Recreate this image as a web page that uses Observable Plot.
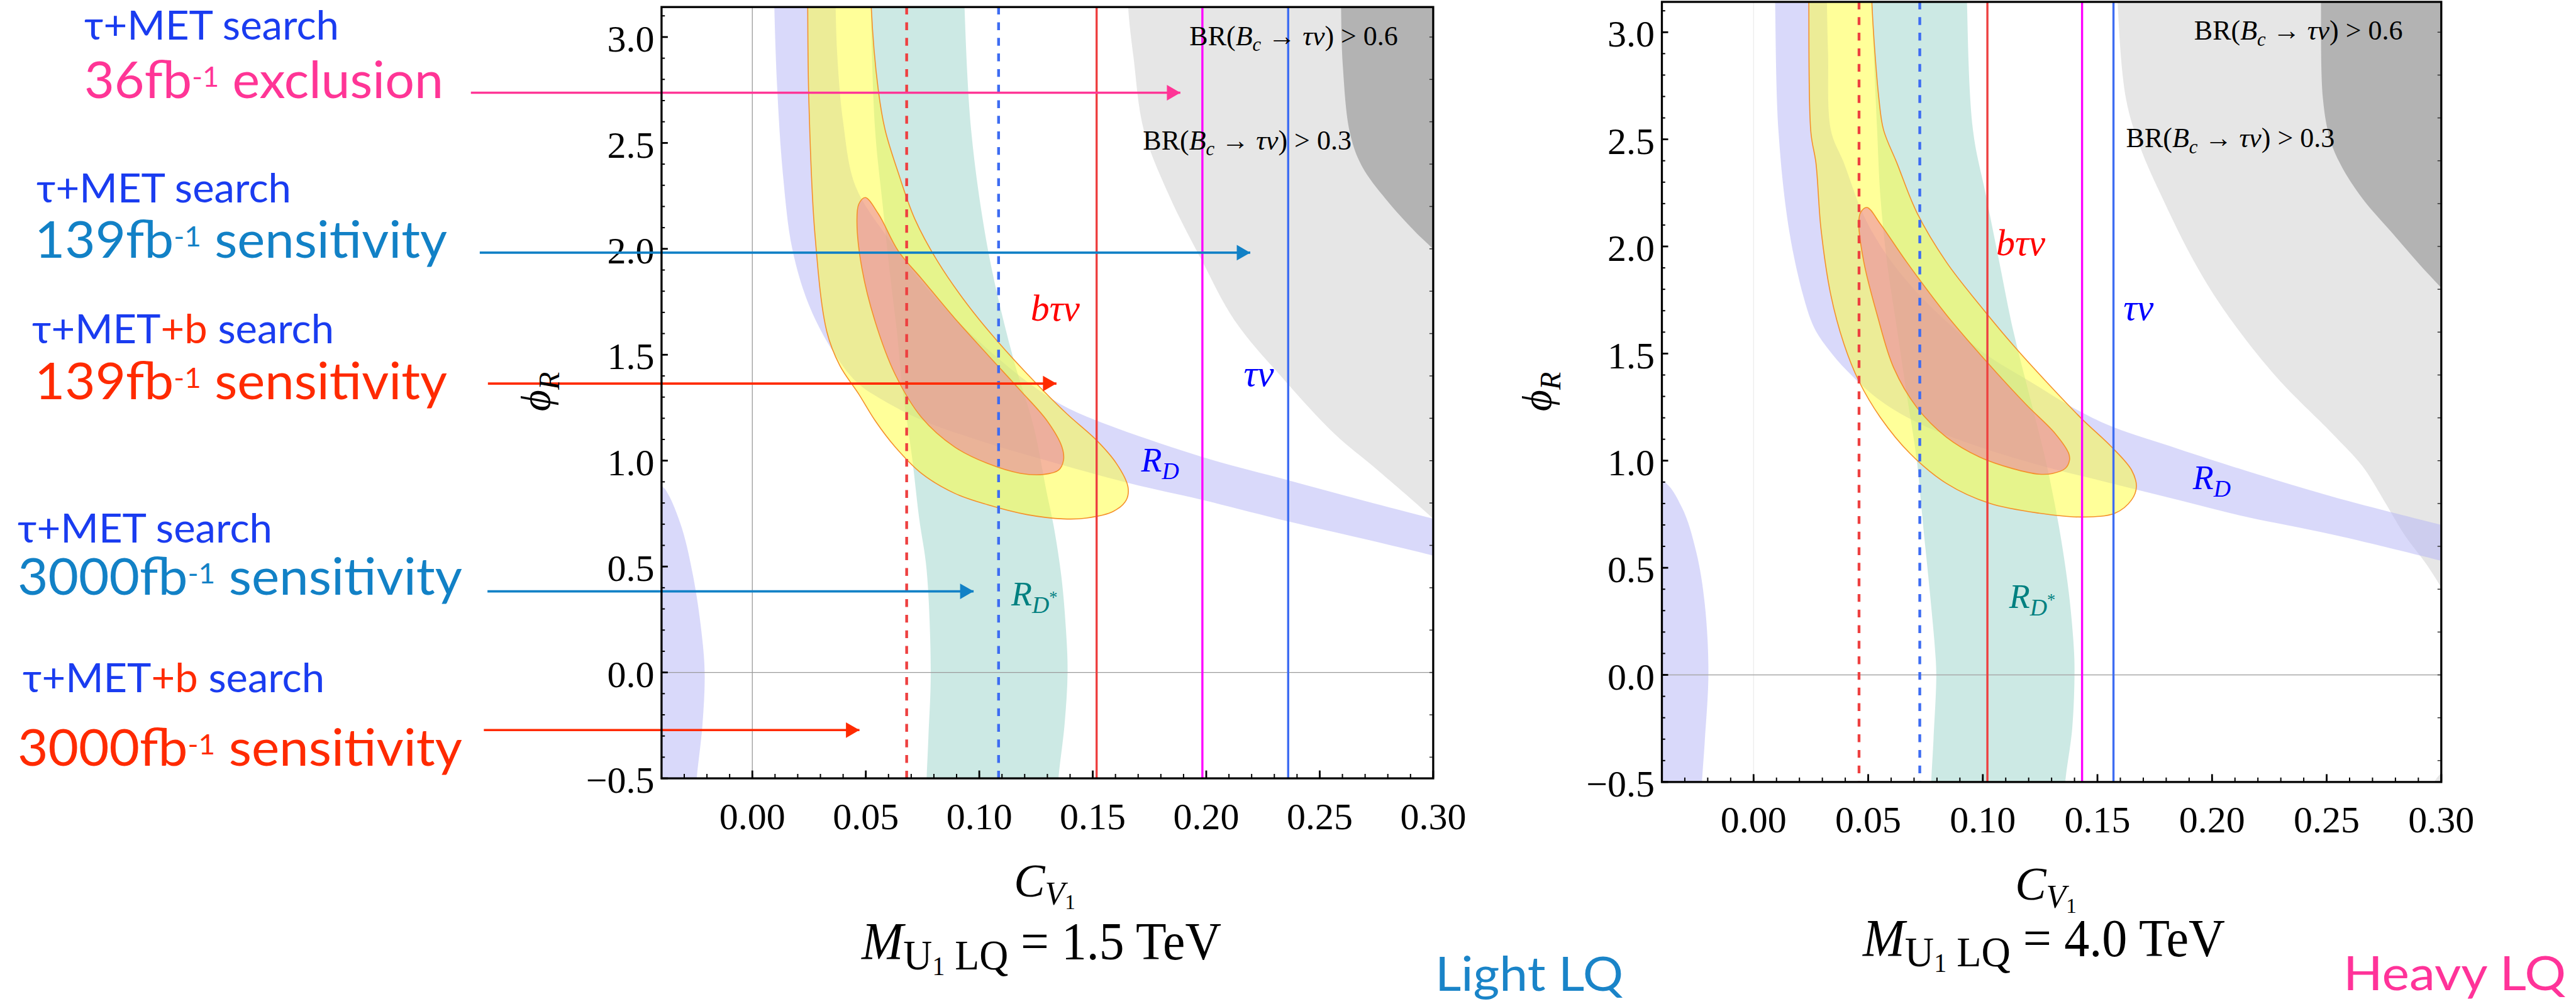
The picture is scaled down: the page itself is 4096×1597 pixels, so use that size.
<!DOCTYPE html>
<html><head><meta charset="utf-8">
<script src="https://cdn.jsdelivr.net/npm/d3@7"></script>
<script src="https://cdn.jsdelivr.net/npm/@observablehq/plot@0.6"></script>
<style>
html,body{margin:0;padding:0;background:#fff;}
#root{position:relative;width:4096px;height:1597px;overflow:hidden;background:#fff;}
</style></head><body><div id="root"></div>
<script>
// ---------------- DATA ----------------
const xTickValues = [0, 0.05, 0.1, 0.15, 0.2, 0.25, 0.3];
const xTickLabels = ["0.00", "0.05", "0.10", "0.15", "0.20", "0.25", "0.30"];
const yTickValues = [-0.5, 0, 0.5, 1, 1.5, 2, 2.5, 3];
const yTickLabels = ["\u22120.5", "0.0", "0.5", "1.0", "1.5", "2.0", "2.5", "3.0"];

// Panel A : M = 1.5 TeV
const rdBandA = [
 [0.0095,3.35],[0.0097,3.1416],[0.011,2.75],[0.0135,2.35],[0.0176,2.0],[0.0249,1.736],[0.0354,1.518],[0.046,1.37],[0.0568,1.29],[0.075,1.19],[0.10,1.095],[0.1253,1.014],[0.1663,0.893],[0.1981,0.815],[0.2357,0.714],[0.2737,0.62],[0.30,0.552],[0.33,0.47],
 [0.33,0.645],[0.30,0.726],[0.2737,0.799],[0.2357,0.909],[0.1981,1.018],[0.1517,1.189],[0.1357,1.267],[0.1226,1.361],[0.108,1.486],[0.0891,1.673],[0.0745,1.844],[0.060,2.047],[0.0454,2.297],[0.040,2.6],[0.0375,2.9],[0.0367,3.1416],[0.0365,3.35]
];
const rdSliverA = [[-0.07,0.95],[-0.04,0.88],[-0.037,0.84],[-0.031,0.68],[-0.026,0.45],[-0.0225,0.2],[-0.021,0.0],[-0.022,-0.25],[-0.0245,-0.5],[-0.025,-0.6],[-0.07,-0.6]];
const rdStarA = [
 [0.0520,3.35],[0.0522,3.1416],[0.0541,2.562],[0.0575,2.2],[0.061,1.85],[0.0638,1.6],[0.066,1.356],[0.0705,1.005],[0.0735,0.728],[0.0768,0.484],[0.0786,0.0],[0.0776,-0.3],[0.0768,-0.5],[0.0765,-0.6],
 [0.1345,-0.6],[0.1349,-0.5],[0.1376,-0.242],[0.1389,0.0],[0.1382,0.2],[0.1362,0.45],[0.1328,0.69],[0.1297,0.85],[0.124,1.158],[0.1153,1.47],[0.108,1.782],[0.1022,2.094],[0.0964,2.562],[0.0935,3.1416],[0.0932,3.35]
];
const yellowA = [
 [0.0244,3.35],[0.0244,3.1416],[0.0249,2.70],[0.0275,2.08],[0.0328,1.61],[0.0385,1.45],[0.0469,1.314],[0.0541,1.189],[0.0629,1.065],[0.0745,0.940],[0.0891,0.846],[0.1036,0.792],[0.1211,0.745],[0.1371,0.725],[0.1473,0.729],[0.1590,0.760],[0.1648,0.815],[0.1655,0.877],[0.1604,0.987],[0.1517,1.096],[0.1386,1.221],[0.1240,1.377],[0.1080,1.564],[0.0949,1.735],[0.0818,1.938],[0.0716,2.141],[0.0643,2.359],[0.0585,2.562],[0.0555,2.75],[0.0524,3.1416],[0.0522,3.35]
];
const redA = [
 [0.0498,2.242],[0.0556,2.164],[0.0643,1.990],[0.0745,1.860],[0.0891,1.673],[0.1036,1.501],[0.1182,1.330],[0.1298,1.189],[0.1364,1.065],[0.1371,1.002],[0.1349,0.955],[0.1284,0.935],[0.1182,0.940],[0.1036,0.987],[0.0891,1.065],[0.0745,1.205],[0.0629,1.408],[0.0541,1.657],[0.0483,1.907],[0.0461,2.125],[0.0469,2.211]
];
const brLowA = [[0.1654,3.35],[0.1656,3.1416],[0.168,2.9],[0.1725,2.56],[0.1837,2.25],[0.1983,1.94],[0.2128,1.657],[0.2347,1.377],[0.2565,1.127],[0.275,0.96],[0.30,0.726],[0.31,0.62],[0.33,0.40],[0.36,0.40],[0.36,3.35]];
const brHighA = [[0.2594,3.35],[0.2594,3.1416],[0.2602,2.86],[0.2633,2.548],[0.2685,2.392],[0.279,2.236],[0.2921,2.080],[0.30,1.998],[0.31,1.88],[0.36,1.88],[0.36,3.35]];
const cutSeries = ["b3000", "t3000", "b139", "t36", "t139"];
const cutValuesA = [0.068, 0.1085, 0.1517, 0.1983, 0.2361];
const labelsA = [
 {kind:"br", x:0.1926, y:2.962, text:"BR(<i>B</i><sub><i>c</i></sub> \u2192 <i>\u03c4\u03bd</i>) > 0.6"},
 {kind:"br", x:0.1721, y:2.469, text:"BR(<i>B</i><sub><i>c</i></sub> \u2192 <i>\u03c4\u03bd</i>) > 0.3"},
 {kind:"btn", x:0.1226, y:1.66, text:"b\u03c4\u03bd"},
 {kind:"tn", x:0.2165, y:1.353, text:"\u03c4\u03bd"},
 {kind:"rd", x:0.1713, y:0.948, text:"<i>R</i><sub><i>D</i></sub>"},
 {kind:"rds", x:0.1141, y:0.316, text:"<i>R</i><sub><i>D</i><sup>*</sup></sub>"}
];
const arrowSeries = ["t36", "t139", "b139", "t3000", "b3000"];
const arrowY = [2.737, 1.982, 1.364, 0.383, -0.272];
const arrowFrom = [-0.124, -0.1201, -0.1165, -0.1167, -0.1183];
const arrowTo = [0.1886, 0.2194, 0.134, 0.0975, 0.0472];

// Panel B : M = 4.0 TeV
const rdBandB = [
 [0.0092,3.35],[0.0094,3.1416],[0.0109,2.532],[0.0156,2.069],[0.0219,1.761],[0.0265,1.619],[0.0322,1.526],[0.0409,1.418],[0.0553,1.280],[0.0726,1.172],[0.0986,1.064],[0.1274,0.971],[0.1562,0.894],[0.185,0.817],[0.2139,0.740],[0.2525,0.655],[0.30,0.533],[0.33,0.45],
 [0.33,0.62],[0.30,0.70],[0.2525,0.832],[0.2139,0.956],[0.185,1.056],[0.157,1.156],[0.1418,1.233],[0.1202,1.372],[0.1014,1.496],[0.0841,1.650],[0.0697,1.804],[0.0582,1.958],[0.0481,2.143],[0.0394,2.390],[0.0337,2.544],[0.0325,2.9],[0.032,3.1416],[0.032,3.35]
];
const rdSliverB = [[-0.07,0.98],[-0.04,0.91],[-0.0313,0.782],[-0.025,0.573],[-0.0213,0.332],[-0.0197,0.011],[-0.0213,-0.31],[-0.0225,-0.5],[-0.0228,-0.6],[-0.07,-0.6]];
const rdStarB = [
 [0.0514,3.35],[0.0516,3.1416],[0.0539,2.544],[0.0553,2.236],[0.0582,1.927],[0.0625,1.619],[0.0668,1.31],[0.0712,1.002],[0.074,0.693],[0.0769,0.385],[0.0791,0.126],[0.0797,0.0],[0.0785,-0.3],[0.0775,-0.5],[0.0772,-0.6],
 [0.1358,-0.6],[0.136,-0.5],[0.139,-0.25],[0.14,0.0],[0.1397,0.126],[0.1375,0.385],[0.1332,0.693],[0.1274,1.002],[0.1202,1.31],[0.113,1.619],[0.1072,1.927],[0.1014,2.236],[0.0957,2.544],[0.0931,3.1416],[0.093,3.35]
];
const yellowB = [
 [0.0241,3.35],[0.0241,3.1416],[0.025,2.532],[0.0272,2.39],[0.0294,2.082],[0.0337,1.773],[0.0395,1.542],[0.0459,1.372],[0.0553,1.202],[0.0683,1.033],[0.0841,0.894],[0.1029,0.801],[0.1245,0.755],[0.1433,0.737],[0.1577,0.755],[0.1649,0.817],[0.1670,0.879],[0.1649,0.956],[0.1562,1.064],[0.1432,1.195],[0.1274,1.372],[0.1130,1.542],[0.0986,1.727],[0.0841,1.927],[0.0712,2.159],[0.0625,2.39],[0.0567,2.544],[0.0547,2.687],[0.0516,3.1416],[0.0514,3.35]
];
const redB = [
 [0.0495,2.182],[0.0553,2.105],[0.0668,1.927],[0.0841,1.681],[0.1014,1.465],[0.1187,1.264],[0.1317,1.125],[0.1375,1.033],[0.1378,1.002],[0.1360,0.964],[0.1303,0.940],[0.1245,0.937],[0.1130,0.963],[0.0986,1.017],[0.0841,1.110],[0.0712,1.249],[0.0611,1.434],[0.0539,1.681],[0.0481,1.927],[0.0459,2.112],[0.0467,2.159]
];
const brLowB = [[0.1586,3.35],[0.1588,3.1416],[0.1625,2.687],[0.1685,2.467],[0.1779,2.236],[0.1923,1.927],[0.2067,1.681],[0.2283,1.388],[0.2526,1.125],[0.2656,0.974],[0.275,0.814],[0.284,0.653],[0.295,0.493],[0.302,0.35],[0.304,0.0],[0.3005,-0.44],[0.297,-0.5],[0.295,-0.6],[0.36,-0.6],[0.36,3.35]];
const brHighB = [[0.2475,3.35],[0.2475,3.1416],[0.2484,2.687],[0.2515,2.5],[0.2563,2.378],[0.2656,2.224],[0.2781,2.069],[0.2906,1.915],[0.30,1.807],[0.31,1.69],[0.36,1.69],[0.36,3.35]];
const cutValuesB = [0.046, 0.0725, 0.102, 0.1433, 0.157];
const labelsB = [
 {kind:"br", x:0.1922, y:2.9645, text:"BR(<i>B</i><sub><i>c</i></sub> \u2192 <i>\u03c4\u03bd</i>) > 0.6"},
 {kind:"br", x:0.1625, y:2.463, text:"BR(<i>B</i><sub><i>c</i></sub> \u2192 <i>\u03c4\u03bd</i>) > 0.3"},
 {kind:"btn", x:0.1058, y:1.958, text:"b\u03c4\u03bd"},
 {kind:"tn", x:0.1613, y:1.657, text:"\u03c4\u03bd"},
 {kind:"rd", x:0.1916, y:0.866, text:"<i>R</i><sub><i>D</i></sub>"},
 {kind:"rds", x:0.1115, y:0.313, text:"<i>R</i><sub><i>D</i><sup>*</sup></sub>"}
];

// ---------------- STYLE ----------------
const SERIF = "'Liberation Serif', 'Times New Roman', 'DejaVu Serif', serif";
const SANS = "Lato, 'Open Sans', 'DejaVu Sans', sans-serif";
const cutColor = {b3000:"#ee4040", t3000:"#3d6cf2", b139:"#ee4040", t36:"#ff00ff", t139:"#3d6cf2"};
const arrowColor = {t36:"#ff3596", t139:"#1281c6", b139:"#ff2a00", t3000:"#1281c6", b3000:"#ff2a00"};
const yMinor = d3.range(-5, 32).map(i => i / 10);
const yRight = d3.range(-2, 16).map(i => i / 5);
const xMinor = d3.range(-3, 31).map(i => i / 100);

function richify(svg) {
  d3.select(svg).selectAll("text").each(function () {
    const s = this.textContent;
    if (!s.includes("<")) return;
    const g = this.closest("[font-size]");
    const fs = g ? parseFloat(g.getAttribute("font-size")) : 40;
    this.textContent = "";
    const parts = s.split(/(<\/?(?:i|sub|sup)>)/).filter(p => p !== "");
    let italic = 0, cur = 0; const stack = [];
    for (const p of parts) {
      if (p === "<i>") { italic++; continue; }
      if (p === "</i>") { italic--; continue; }
      if (p === "<sub>" || p === "<sup>") { stack.push(p); continue; }
      if (p === "</sub>" || p === "</sup>") { stack.pop(); continue; }
      let scale = 1, shift = 0;
      for (const t of stack) { shift += (t === "<sub>" ? 0.22 : -0.42) * fs * scale; scale *= 0.7; }
      const ts = document.createElementNS("http://www.w3.org/2000/svg", "tspan");
      ts.textContent = p;
      if (italic) ts.setAttribute("font-style", "italic");
      ts.setAttribute("font-size", fs * scale);
      if (shift - cur !== 0) ts.setAttribute("dy", shift - cur);
      cur = shift;
      this.appendChild(ts);
    }
  });
}

function panel(cfg, P) {
  const fw = cfg.width - cfg.marginLeft - cfg.marginRight;
  const fh = cfg.height - cfg.marginTop - cfg.marginBottom;
  const X = p => p[0], Y = p => p[1];
  const poly = (pts, o) => Plot.line(pts, {x: X, y: Y, curve: "catmull-rom-closed", clip: true, ...o});
  const lav = {fill: "#b4b4f6", fillOpacity: 0.5, stroke: "none"};
  const xt = xTickValues.map((v, i) => ({v, s: xTickLabels[i]}));
  const yt = yTickValues.map((v, i) => ({v, s: yTickLabels[i]}));
  const cuts = P.cuts.map((x, i) => ({x, series: cutSeries[i]}));
  const dashed = cuts.filter(c => c.series.endsWith("3000"));
  const solid = cuts.filter(c => !c.series.endsWith("3000"));
  const lbl = k => P.labels.filter(l => l.kind === k);
  const tOpt = {x: "x", y: "y", text: "text", textAnchor: "start", lineAnchor: "bottom", fontFamily: SERIF};
  const marks = [
    poly(P.brLow, {fill: "#e6e6e6", stroke: "none"}),
    poly(P.brHigh, {fill: "#b3b3b3", stroke: "none"}),
    poly(P.rdBand, lav), poly(P.rdSliver, lav),
    poly(P.rdStar, {fill: "#99d4ca", fillOpacity: 0.5, stroke: "none"}),
    poly(P.yellow, {fill: "#ffff33", fillOpacity: 0.5, stroke: "#f5902a", strokeWidth: 1.6}),
    poly(P.red, {fill: "#ee72a4", fillOpacity: 0.5, stroke: "#f5902a", strokeWidth: 1.6}),
    Plot.ruleX([0], {stroke: cfg.zeroX, strokeWidth: 1.3}),
    Plot.ruleY([0], {stroke: cfg.zeroY, strokeWidth: 1.3}),
    Plot.ruleX(dashed, {x: "x", stroke: c => cutColor[c.series], strokeWidth: 4.4, strokeDasharray: "12.4,12.4"}),
    Plot.ruleX(solid, {x: "x", stroke: c => cutColor[c.series], strokeWidth: 3.4}),
    Plot.text(lbl("br"), {...tOpt, fontSize: 44, fill: "black"}),
    Plot.text(lbl("btn"), {...tOpt, fontSize: 60, fontStyle: "italic", fill: "#ff0000"}),
    Plot.text(lbl("tn"), {...tOpt, fontSize: 60, fontStyle: "italic", fill: "#0000ff"}),
    Plot.text(lbl("rd"), {...tOpt, fontSize: 54, fill: "#0000ff"}),
    Plot.text(lbl("rds"), {...tOpt, fontSize: 54, fill: "#008080"}),
    Plot.tickY(yMinor, {y: d => d, stroke: "black", strokeWidth: 2, insetRight: fw - 5.8}),
    Plot.tickY(yTickValues, {y: d => d, stroke: "black", strokeWidth: 2.8, insetRight: fw - 10.5}),
    Plot.tickX(xMinor, {x: d => d, stroke: "black", strokeWidth: 2, insetTop: fh - 6.6}),
    Plot.tickX(xTickValues, {x: d => d, stroke: "black", strokeWidth: 2.8, insetTop: fh - 12}),
    Plot.tickY(yRight, {y: d => d, stroke: "#333", strokeWidth: 1.5, insetLeft: fw - 5.5}),
    Plot.text(xt, {x: "v", text: "s", frameAnchor: "bottom", lineAnchor: "bottom", dy: cfg.xLabelDy, fontSize: 60, fontFamily: SERIF, fill: "black"}),
    Plot.text(yt, {y: "v", text: "s", frameAnchor: "left", textAnchor: "end", lineAnchor: "middle", dx: -11.4, dy: 4, fontSize: 60, fontFamily: SERIF, fill: "black"})
  ];
  if (P.arrows) {
    marks.push(
      Plot.link(P.arrows, {x1: "from", x2: "to", y1: "y", y2: "y", stroke: a => arrowColor[a.series], strokeWidth: 3.6}),
      Plot.dot(P.arrows, {x: "to", y: "y", symbol: "triangle", r: 9.2, rotate: 90, fill: a => arrowColor[a.series], stroke: "none", dx: -14.3})
    );
  }
  marks.push(Plot.frame({stroke: "black", strokeWidth: 3.3}));
  const svg = Plot.plot({
    width: cfg.width, height: cfg.height,
    marginLeft: cfg.marginLeft, marginRight: cfg.marginRight, marginTop: cfg.marginTop, marginBottom: cfg.marginBottom,
    x: {domain: [-0.04, 0.30], axis: null},
    y: {domain: [-0.5, Math.PI], axis: null},
    color: {type: "identity"},
    style: {background: "transparent", overflow: "visible", maxWidth: "none"},
    marks
  });
  richify(svg);
  svg.style.position = "absolute";
  svg.style.left = cfg.left + "px";
  svg.style.top = "0px";
  return svg;
}

const root = document.getElementById("root");
const arrowsA = arrowSeries.map((s, i) => ({series: s, y: arrowY[i], from: arrowFrom[i], to: arrowTo[i]}));
root.appendChild(panel(
  {left: 600, width: 1718.4, height: 1338, marginLeft: 451.4, marginRight: 40, marginTop: 10.7, marginBottom: 100.4, xLabelDy: 80.8, zeroX: "#9a9a9a", zeroY: "#9a9a9a"},
  {brLow: brLowA, brHigh: brHighA, rdBand: rdBandA, rdSliver: rdSliverA, rdStar: rdStarA, yellow: yellowA, red: redA, cuts: cutValuesA, labels: labelsA, arrows: arrowsA}
));
root.appendChild(panel(
  {left: 2491.7, width: 1439.3, height: 1343.4, marginLeft: 150, marginRight: 50, marginTop: 2.5, marginBottom: 100, xLabelDy: 79.9, zeroX: "#ececec", zeroY: "#a8a8a8"},
  {brLow: brLowB, brHigh: brHighB, rdBand: rdBandB, rdSliver: rdSliverB, rdStar: rdStarB, yellow: yellowB, red: redB, cuts: cutValuesB, labels: labelsB}
));

// ---------------- free text overlay ----------------
const ov = d3.create("svg").attr("width", 4096).attr("height", 1597)
  .style("position", "absolute").style("left", "0px").style("top", "0px").style("overflow", "visible");
function rich(o) {
  const t = ov.append("text").attr("x", o.x).attr("y", o.y).attr("font-size", o.size)
    .attr("font-family", o.family || SANS).attr("text-anchor", o.anchor || "start");
  if (o.rotate) t.attr("transform", `rotate(${o.rotate},${o.x},${o.y})`);
  let cur = 0;
  for (const s of o.segs) {
    const sh = (s.sh || 0) * o.size;
    const ts = t.append("tspan").text(s.t).attr("fill", s.c || "#000").attr("font-size", o.size * (s.sc || 1));
    if (s.i) ts.attr("font-style", "italic");
    if (sh - cur !== 0) ts.attr("dy", sh - cur);
    cur = sh;
  }
  if (o.width) t.attr("textLength", o.width).attr("lengthAdjust", "spacingAndGlyphs");
}
const BT = "#1a3cf0", BS = "#1281c6", RD = "#ff2a00", PK = "#ff3596";
const search = [{t: "\u03c4+MET search", c: BT}];
const searchB = [{t: "\u03c4+MET", c: BT}, {t: "+b", c: RD}, {t: " search", c: BT}];
const lumi = (n, word, c) => [{t: n + "fb", c}, {t: "-1", c, sc: 0.55, sh: -0.22}, {t: " " + word, c}];
rich({x: 134, y: 63, size: 63, width: 405, segs: search});
rich({x: 134, y: 156, size: 82, width: 571, segs: lumi("36", "exclusion", PK)});
rich({x: 58, y: 321.5, size: 63, width: 405, segs: search});
rich({x: 55, y: 410, size: 82, width: 656, segs: lumi("139", "sensitivity", BS)});
rich({x: 51, y: 545.5, size: 63, width: 480, segs: searchB});
rich({x: 55, y: 635, size: 82, width: 656, segs: lumi("139", "sensitivity", RD)});
rich({x: 28, y: 863, size: 63, width: 405, segs: search});
rich({x: 28, y: 946, size: 82, width: 707, segs: lumi("3000", "sensitivity", BS)});
rich({x: 36, y: 1101, size: 63, width: 480, segs: searchB});
rich({x: 28, y: 1218, size: 82, width: 707, segs: lumi("3000", "sensitivity", RD)});

rich({x: 2282, y: 1576, size: 76, width: 299, segs: [{t: "Light LQ", c: "#1a84c8"}]});
rich({x: 3726, y: 1575, size: 76, width: 354, segs: [{t: "Heavy LQ", c: "#ff3399"}]});

const cv = [{t: "C", i: true}, {t: "V", i: true, sc: 0.7, sh: 0.18}, {t: "1", sc: 0.45, sh: 0.28}];
rich({x: 1661, y: 1425.6, size: 74, family: SERIF, anchor: "middle", segs: cv});
rich({x: 3253, y: 1431, size: 74, family: SERIF, anchor: "middle", segs: cv});
const title = v => [{t: "M", i: true}, {t: "U", sc: 0.8, sh: 0.19}, {t: "1", sc: 0.5, sh: 0.3}, {t: " LQ", sc: 0.8, sh: 0.19}, {t: " = " + v + " TeV"}];
rich({x: 1656, y: 1526, size: 84, family: SERIF, anchor: "middle", width: 572, segs: title("1.5")});
rich({x: 3250, y: 1521, size: 84, family: SERIF, anchor: "middle", width: 576, segs: title("4.0")});
const phi = [{t: "\u03d5", i: true}, {t: "R", i: true, sc: 0.7, sh: 0.22}];
rich({x: 874, y: 623, size: 66, family: SERIF, anchor: "middle", rotate: -90, segs: phi});
rich({x: 2466, y: 623, size: 66, family: SERIF, anchor: "middle", rotate: -90, segs: phi});
root.appendChild(ov.node());
</script>
</body></html>
